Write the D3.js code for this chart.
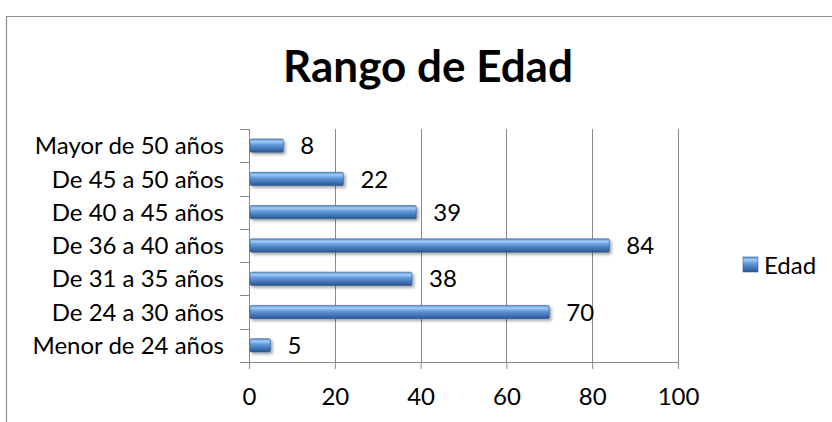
<!DOCTYPE html>
<html>
<head>
<meta charset="utf-8">
<script src="https://cdn.jsdelivr.net/npm/d3@7"></script>
<style>
  body { margin: 0; background: #fff; }
  svg { display: block; font-family: Lato, "Noto Sans", sans-serif; }
</style>
</head>
<body>
<script>
const categories = ["Mayor de 50 años", "De 45 a 50 años", "De 40 a 45 años", "De 36 a 40 años",
    "De 31 a 35 años", "De 24 a 30 años", "Menor de 24 años"];
const values = [8, 22, 39, 84, 38, 70, 5];
const xTicks = [0, 20, 40, 60, 80, 100];
const seriesName = "Edad";
const title = "Rango de Edad";

const chartDimensions = {
    height: 422,
    width: 832,
    margin: {
        top: 129,
        left: 249,
        bottom: 60,
        right: 154,
    }
}

let svg = d3.select("body")
    .append("svg")
    .attr("height", chartDimensions.height)
    .attr("width", chartDimensions.width);

// bar gradient + shadow
let defs = svg.append("defs");
let grad = defs.append("linearGradient")
    .attr("id", "barGrad")
    .attr("x1", 0).attr("y1", 0).attr("x2", 0).attr("y2", 1);
grad.append("stop").attr("offset", "0%").attr("stop-color", "#5f95d6");
grad.append("stop").attr("offset", "20%").attr("stop-color", "#a3caf3");
grad.append("stop").attr("offset", "42%").attr("stop-color", "#639bdd");
grad.append("stop").attr("offset", "75%").attr("stop-color", "#4073b4");
grad.append("stop").attr("offset", "100%").attr("stop-color", "#2a5590");
let shadow = defs.append("filter")
    .attr("id", "barShadow")
    .attr("x", "-10%").attr("y", "-50%").attr("width", "130%").attr("height", "250%");
shadow.append("feDropShadow")
    .attr("dx", 2).attr("dy", 2).attr("stdDeviation", 1.6)
    .attr("flood-color", "#000").attr("flood-opacity", 0.35);

// chart frame (cropped at right/bottom)
svg.append("path")
    .attr("d", "M6.5," + chartDimensions.height + "V16.5H" + chartDimensions.width)
    .attr("fill", "none")
    .attr("stroke", "#8c8c8c")
    .attr("stroke-width", 1.2);

svg.append("text")
    .attr("x", 428)
    .attr("y", 82)
    .attr("text-anchor", "middle")
    .style("font-weight", "bold")
    .style("font-size", "44px")
    .text(title);

const plotW = chartDimensions.width - chartDimensions.margin.left - chartDimensions.margin.right;
const plotH = 362 - chartDimensions.margin.top;

let x = d3.scaleLinear()
    .domain([0, 100])
    .range([0, plotW]);
let y = d3.scaleBand()
    .domain(categories)
    .range([0, plotH])
    .paddingInner(0.6)
    .paddingOuter(0.3);

let plot = svg.append("g")
    .attr("transform", "translate(" + chartDimensions.margin.left + "," + chartDimensions.margin.top + ")");

// gridlines
plot.selectAll(".grid")
    .data(xTicks.slice(1))
    .enter()
    .append("line")
    .attr("class", "grid")
    .attr("x1", d => Math.round(x(d)) + 0.5)
    .attr("x2", d => Math.round(x(d)) + 0.5)
    .attr("y1", 0)
    .attr("y2", plotH)
    .attr("stroke", "#8a8a8a");

// x axis
let xAxis = plot.append("g")
    .attr("transform", "translate(0," + plotH + ")")
    .call(d3.axisBottom(x).tickValues(xTicks).tickSize(7).tickPadding(19));
// y axis with ticks at band edges
let bandEdges = d3.range(categories.length + 1).map(i => i * plotH / categories.length);
let yAxis = plot.append("g");
yAxis.append("line")
    .attr("x1", 0.5).attr("x2", 0.5).attr("y1", 0).attr("y2", plotH)
    .attr("stroke", "#8a8a8a");
yAxis.selectAll(".ytick")
    .data(bandEdges)
    .enter()
    .append("line")
    .attr("x1", -9).attr("x2", 0.5)
    .attr("y1", d => Math.round(d) + 0.5)
    .attr("y2", d => Math.round(d) + 0.5)
    .attr("stroke", "#8a8a8a");
yAxis.selectAll(".ylabel")
    .data(categories)
    .enter()
    .append("text")
    .attr("x", -25)
    .attr("y", d => y(d) + y.bandwidth() / 2)
    .attr("dy", "0.36em")
    .attr("text-anchor", "end")
    .style("font-size", "24px")
    .text(d => d);

xAxis.select(".domain").attr("stroke", "#8a8a8a");
xAxis.selectAll(".tick line").attr("stroke", "#8a8a8a");
xAxis.selectAll(".tick text")
    .style("font-size", "24px")
    .style("font-family", "Lato, sans-serif")
    .attr("fill", "#000");

// bars
plot.selectAll(".bar")
    .data(values)
    .enter()
    .append("rect")
    .attr("class", "bar")
    .attr("x", 1)
    .attr("y", (d, i) => y(categories[i]))
    .attr("width", d => x(d) - 1)
    .attr("height", y.bandwidth())
    .attr("rx", 1.5)
    .attr("fill", "url(#barGrad)")
    .attr("stroke", "#2f5a92")
    .attr("stroke-width", 0.6)
    .attr("filter", "url(#barShadow)");

// value labels
plot.selectAll(".val")
    .data(values)
    .enter()
    .append("text")
    .attr("x", d => x(d) + 17)
    .attr("y", (d, i) => y(categories[i]) + y.bandwidth() / 2)
    .attr("dy", "0.36em")
    .style("font-size", "24px")
    .text(d => d);

// legend
let legend = svg.append("g")
    .attr("transform", "translate(743,257)");
legend.append("rect")
    .attr("width", 15)
    .attr("height", 15)
    .attr("fill", "url(#barGrad)")
    .attr("stroke", "#2f5a92")
    .attr("stroke-width", 0.6);
legend.append("text")
    .attr("x", 21)
    .attr("y", 8)
    .attr("dy", "0.36em")
    .style("font-size", "24px")
    .text(seriesName);
</script>
</body>
</html>
